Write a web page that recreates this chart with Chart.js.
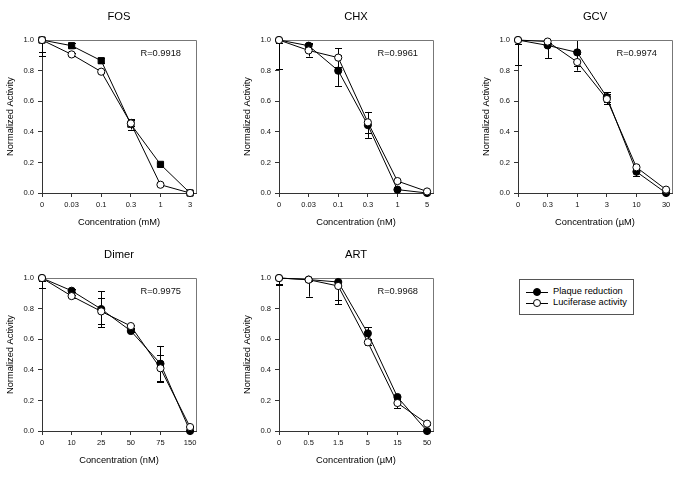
<!DOCTYPE html>
<html><head><meta charset="utf-8">
<script src="https://cdn.jsdelivr.net/npm/chart.js@4"></script>
<style>
html,body{margin:0;padding:0;background:#fff}
body{width:685px;height:477px;overflow:hidden;position:relative;font-family:"Liberation Sans",Arial,sans-serif}
canvas.p{position:absolute}
#legend{position:absolute;left:519px;top:279px;width:113px;height:34px;border:1px solid #555;background:#fff}
#legend .ln{position:absolute;left:6px;width:22px;height:0;border-top:1px solid #000}
#legend .mk{position:absolute;left:13px;width:6px;height:6px;border:1px solid #000;border-radius:50%}
#legend .tx{position:absolute;left:33px;font-size:9.3px;line-height:11px;color:#000;white-space:nowrap}
</style></head><body>
<canvas class="p" id="c0" width="230" height="230" style="left:0px;top:0px"></canvas>
<canvas class="p" id="c1" width="230" height="230" style="left:237px;top:0px"></canvas>
<canvas class="p" id="c2" width="230" height="230" style="left:476px;top:0px"></canvas>
<canvas class="p" id="c3" width="230" height="230" style="left:0px;top:238px"></canvas>
<canvas class="p" id="c4" width="230" height="230" style="left:237px;top:238px"></canvas>
<div id="legend">
  <div class="ln" style="top:12px"></div><div class="mk" style="top:8px;background:#000"></div><div class="tx" style="top:6px">Plaque reduction</div>
  <div class="ln" style="top:23px"></div><div class="mk" style="top:19px;background:#fff"></div><div class="tx" style="top:17px">Luciferase activity</div>
</div>
<script>
// ---- Data ----
const seriesNames = ['Plaque reduction', 'Luciferase activity'];

const fosTitle = 'FOS';
const fosR = 'R=0.9918';
const fosUnit = 'Concentration (mM)';
const fosLabels = ['0', '0.03', '0.1', '0.3', '1', '3'];
const fosPlaque = [1.0, 0.963, 0.865, 0.45, 0.187, 0.0];
const fosPlaqueErr = [0.08, 0.015, 0.015, 0.035, 0.01, 0];
const fosLuc = [1.0, 0.906, 0.793, 0.455, 0.054, 0.0];
const fosLucErr = [0.107, 0.01, 0.01, 0.02, 0.01, 0];

const chxTitle = 'CHX';
const chxR = 'R=0.9961';
const chxUnit = 'Concentration (nM)';
const chxLabels = ['0', '0.03', '0.1', '0.3', '1', '5'];
const chxPlaque = [1.0, 0.963, 0.80, 0.444, 0.022, 0.0];
const chxPlaqueErr = [0.19, 0.02, 0.10, 0.084, 0.01, 0];
const chxLuc = [1.0, 0.932, 0.885, 0.462, 0.078, 0.01];
const chxLucErr = [0.02, 0.04, 0.06, 0.068, 0.01, 0.005];

const gcvTitle = 'GCV';
const gcvR = 'R=0.9974';
const gcvUnit = 'Concentration (\u00b5M)';
const gcvLabels = ['0', '0.3', '1', '3', '10', '30'];
const gcvPlaque = [1.0, 0.965, 0.919, 0.627, 0.139, 0.0];
const gcvPlaqueErr = [0.163, 0.085, 0.09, 0.033, 0.029, 0];
const gcvLuc = [1.0, 0.99, 0.856, 0.614, 0.168, 0.022];
const gcvLucErr = [0.026, 0.01, 0.056, 0.034, 0.017, 0.005];

const dimerTitle = 'Dimer';
const dimerR = 'R=0.9975';
const dimerUnit = 'Concentration (nM)';
const dimerLabels = ['0', '10', '25', '50', '75', '150'];
const dimerPlaque = [1.0, 0.917, 0.797, 0.654, 0.44, 0.0];
const dimerPlaqueErr = [0.065, 0.01, 0.118, 0.01, 0.116, 0];
const dimerLuc = [1.0, 0.882, 0.782, 0.686, 0.41, 0.026];
const dimerLucErr = [0.02, 0.01, 0.085, 0.01, 0.088, 0.005];

const artTitle = 'ART';
const artR = 'R=0.9968';
const artUnit = 'Concentration (\u00b5M)';
const artLabels = ['0', '0.5', '1.5', '5', '15', '50'];
const artPlaque = [1.0, 0.99, 0.974, 0.638, 0.222, 0.0];
const artPlaqueErr = [0.044, 0.01, 0.12, 0.04, 0.01, 0];
const artLuc = [1.0, 0.989, 0.948, 0.58, 0.183, 0.048];
const artLucErr = [0.04, 0.111, 0.12, 0.02, 0.033, 0.01];

const yTicks = [0, 0.2, 0.4, 0.6, 0.8, 1.0];

// ---- Rendering ----
const FONT = '"Liberation Sans", Arial, sans-serif';
Chart.defaults.font.family = FONT;
Chart.defaults.color = '#111';

const errorBars = {
  id: 'errorBars',
  beforeDatasetsDraw(chart) {
    const {ctx, chartArea: a, scales: {x, y}} = chart;
    ctx.save();
    ctx.beginPath();
    ctx.rect(a.left - 12, a.top, a.width + 24, a.height);
    ctx.clip();
    ctx.strokeStyle = '#000';
    ctx.lineWidth = 1;
    chart.data.datasets.forEach(ds => {
      (ds.errors || []).forEach((e, i) => {
        if (!e) return;
        const px = Math.round(x.getPixelForValue(ds.data[i].x)) + 0.5;
        const y1 = y.getPixelForValue(ds.data[i].y + e);
        const y2 = y.getPixelForValue(ds.data[i].y - e);
        ctx.beginPath();
        ctx.moveTo(px, y1); ctx.lineTo(px, y2);
        ctx.moveTo(px - 3.5, Math.round(y1) + 0.5); ctx.lineTo(px + 3.5, Math.round(y1) + 0.5);
        ctx.moveTo(px - 3.5, Math.round(y2) + 0.5); ctx.lineTo(px + 3.5, Math.round(y2) + 0.5);
        ctx.stroke();
      });
    });
    ctx.restore();
    // top and right frame lines
    ctx.save();
    ctx.strokeStyle = '#777';
    ctx.lineWidth = 1;
    ctx.beginPath();
    ctx.moveTo(a.left, Math.round(a.top) + 0.5);
    ctx.lineTo(Math.round(a.right) + 0.5, Math.round(a.top) + 0.5);
    ctx.lineTo(Math.round(a.right) + 0.5, a.bottom);
    ctx.stroke();
    ctx.restore();
  },
  afterDraw(chart, args, opts) {
    const {ctx, chartArea: a} = chart;
    ctx.save();
    ctx.font = '9.3px ' + FONT;
    ctx.fillStyle = '#111';
    ctx.textAlign = 'right';
    ctx.textBaseline = 'middle';
    ctx.fillText(opts.text, a.right - 15, a.top + 13);
    ctx.restore();
  }
};

function makePanel(id, title, rText, unit, labels, plaque, plaqueErr, luc, lucErr, plaqueStyle) {
  const pts = arr => arr.map((v, i) => ({x: i, y: v}));
  new Chart(document.getElementById(id), {
    type: 'line',
    data: {
      datasets: [
        {
          label: seriesNames[0], data: pts(plaque), errors: plaqueErr, order: 2,
          borderColor: '#000', borderWidth: 1, backgroundColor: '#000',
          pointStyle: plaqueStyle, pointRadius: plaqueStyle === 'rect' ? 4.4 : 3.6,
          pointBorderColor: '#000', pointBackgroundColor: '#000', pointBorderWidth: 1,
          clip: false, tension: 0
        },
        {
          label: seriesNames[1], data: pts(luc), errors: lucErr, order: 1,
          borderColor: '#000', borderWidth: 1, backgroundColor: '#fff',
          pointStyle: 'circle', pointRadius: 3.6,
          pointBorderColor: '#000', pointBackgroundColor: '#fff', pointBorderWidth: 1,
          clip: false, tension: 0
        }
      ]
    },
    options: {
      responsive: false,
      animation: false,
      events: [],
      layout: {padding: {left: 0, top: 0, right: 34, bottom: 2}},
      plugins: {
        legend: {display: false},
        tooltip: {enabled: false},
        title: {display: true, fullSize: false, text: title, color: '#000',
          font: {size: 11.2, weight: 'normal'}, padding: {top: 10.3, bottom: 16.3}},
        errorBars: {text: rText}
      },
      scales: {
        x: {
          type: 'linear', min: 0, max: 5.2,
          afterBuildTicks: s => { s.ticks = labels.map((l, i) => ({value: i})); },
          afterFit: s => { s.height = 35; },
          ticks: {callback: v => labels[v], font: {size: 7.5}, color: '#111', padding: 3, maxRotation: 0, autoSkip: false},
          grid: {display: true, drawOnChartArea: false, drawTicks: true, tickLength: 4, color: '#333'},
          border: {display: true, color: '#333', width: 1},
          title: {display: true, text: unit, color: '#000', font: {size: 9.3}, padding: {top: 0, bottom: 0}}
        },
        y: {
          min: 0, max: 1,
          afterBuildTicks: s => { s.ticks = yTicks.map(v => ({value: v})); },
          afterFit: s => { s.width = 42; },
          ticks: {callback: v => v.toFixed(1), font: {size: 7.6}, color: '#111', padding: 4},
          grid: {display: true, drawOnChartArea: false, drawTicks: true, tickLength: 4, color: '#333'},
          border: {display: true, color: '#333', width: 1},
          title: {display: true, text: 'Normalized Activity', color: '#000', font: {size: 9.3}, padding: {top: 5, bottom: 0}}
        }
      }
    },
    plugins: [errorBars]
  });
}

makePanel('c0', fosTitle, fosR, fosUnit, fosLabels, fosPlaque, fosPlaqueErr, fosLuc, fosLucErr, 'rect');
makePanel('c1', chxTitle, chxR, chxUnit, chxLabels, chxPlaque, chxPlaqueErr, chxLuc, chxLucErr, 'circle');
makePanel('c2', gcvTitle, gcvR, gcvUnit, gcvLabels, gcvPlaque, gcvPlaqueErr, gcvLuc, gcvLucErr, 'circle');
makePanel('c3', dimerTitle, dimerR, dimerUnit, dimerLabels, dimerPlaque, dimerPlaqueErr, dimerLuc, dimerLucErr, 'circle');
makePanel('c4', artTitle, artR, artUnit, artLabels, artPlaque, artPlaqueErr, artLuc, artLucErr, 'circle');
</script>
</body></html>
